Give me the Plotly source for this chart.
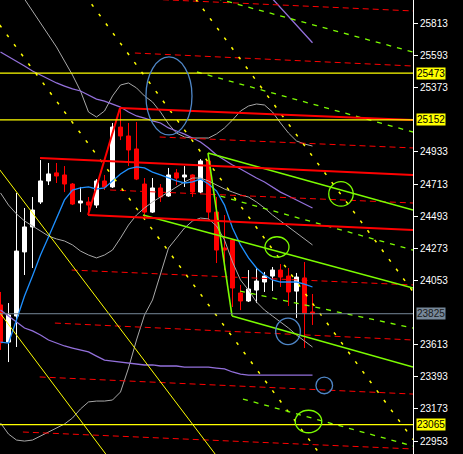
import plotly.graph_objects as go

# ---------------- data ----------------
bar_index = list(range(40))
opens  = [23885, 23631, 23809, 24248, 24419, 24590, 24734, 24789, 24775, 24713,
          24583, 24590, 24569, 24734, 24693, 25103, 25042, 24953, 24713, 24521,
          24686, 24631, 24789, 24761, 24775, 24658, 24871, 24521, 24275, 24330,
          23967, 23912, 23987, 24042, 24083, 24124, 24083, 23980, 24070, 23837]
highs  = [23974, 23898, 24652, 24549, 24624, 24877, 24857, 24857, 24836, 24720,
          24693, 24624, 24747, 24775, 25131, 25230, 25131, 25138, 24754, 24754,
          24713, 24823, 24816, 24836, 24780, 24884, 24898, 24624, 24501, 24335,
          24022, 24124, 24138, 24111, 24145, 24165, 24138, 24104, 24179, 23960]
lows   = [23577, 23494, 23597, 24090, 24138, 24576, 24706, 24720, 24658, 24569,
          24521, 24515, 24549, 24672, 24686, 25014, 24836, 24740, 24487, 24515,
          24590, 24625, 24706, 24693, 24624, 24650, 24467, 24172, 24124, 23871,
          23850, 23905, 23898, 23974, 23981, 24008, 23878, 23796, 23590, 23748]
closes = [23625, 23816, 24254, 24419, 24535, 24734, 24782, 24768, 24713, 24576,
          24597, 24569, 24734, 24693, 25103, 25042, 24946, 24747, 24521, 24686,
          24624, 24775, 24754, 24775, 24658, 24871, 24521, 24261, 24261, 24001,
          23912, 23994, 24049, 24083, 24124, 24076, 23974, 24076, 23830, 23825]

ma_fast = [23631, 23624, 23782, 23946, 24083, 24227, 24350, 24480, 24604, 24672,
           24686, 24693, 24679, 24686, 24734, 24782, 24816, 24830, 24823, 24795,
           24775, 24754, 24734, 24720, 24727, 24747, 24713, 24665, 24569, 24412,
           24296, 24207, 24138, 24090, 24056, 24042, 24042, 24042, 24028, 24008]

bb_mid = [24652, 24569, 24508, 24460, 24426, 24391, 24357, 24337, 24323, 24296,
          24254, 24227, 24207, 24227, 24261, 24343, 24432, 24501, 24549, 24590,
          24624, 24658, 24693, 24727, 24754, 24754, 24734, 24706, 24679, 24658,
          24638, 24624, 24590, 24549, 24501, 24460, 24419, 24378, 24337, 24296]
bb_up  = [26226, 26144, 26055, 25973, 25898, 25816, 25733, 25651, 25555, 25459,
          25350, 25206, 25172, 25213, 25316, 25391, 25405, 25371, 25316, 25275,
          25206, 25124, 25062, 25035, 25028, 25028, 25028, 25056, 25097, 25151,
          25213, 25247, 25261, 25254, 25206, 25131, 25062, 25008, 24987, 24973]
bb_lo  = [23077, 23001, 22960, 22953, 22960, 22988, 23015, 23042, 23070, 23111,
          23173, 23221, 23227, 23227, 23234, 23289, 23453, 23645, 23816, 23919,
          24090, 24275, 24343, 24412, 24460, 24480, 24474, 24426, 24330, 24179,
          24056, 23987, 23905, 23850, 23809, 23768, 23727, 23679, 23638, 23597]

env_mid = [25617, 25583, 25555, 25521, 25487, 25459, 25432, 25405, 25384, 25364,
           25350, 25323, 25295, 25281, 25261, 25240, 25206, 25179, 25165, 25145,
           25131, 25097, 25076, 25055, 25028, 25001, 24960, 24912, 24877, 24843,
           24816, 24782, 24754, 24727, 24693, 24658, 24631, 24604, 24576, 24549]
env_up  = [27384, 27357, 27342, 27315, 27267, 27239, 27219, 27186, 27164, 27138,
           27123, 27083, 27055, 27054, 27021, 26986, 26924, 26877, 26856, 26816,
           26795, 26727, 26685, 26650, 26596, 26542, 26460, 26371, 26307, 26260,
           26220, 26159, 26103, 26049, 25981, 25920, 25860, 25800, 25740, 25680]
env_lo  = [23850, 23809, 23768, 23727, 23707, 23679, 23645, 23624, 23604, 23590,
           23577, 23563, 23535, 23508, 23501, 23494, 23488, 23481, 23474, 23474,
           23467, 23467, 23467, 23460, 23460, 23460, 23460, 23453, 23447, 23426,
           23412, 23405, 23405, 23405, 23405, 23405, 23405, 23405, 23405, 23405]

X_MIN, X_MAX = -0.0625, 51.5625
Y_MIN, Y_MAX = 22864.5, 25973

tick_vals = [22953, 23173, 23393, 23613, 24053, 24273, 24493, 24713, 24933,
             25373, 25593, 25813]
yellow_levels = [25473, 25152, 23065]
bid_level = 23825

# trend objects: (x list in bar index, price list)
red_solid = [
    ([10.94, 14.94], [24501, 25233]),
    ([14.94, X_MAX], [25233, 25151]),
    ([4.94, X_MAX], [24891, 24775]),
    ([10.94, X_MAX], [24501, 24398]),
]
red_dashed = [
    ([20.3, X_MAX], [25975, 25898]),
    ([16.8, X_MAX], [25610, 25521]),
    ([19.9, X_MAX], [25035, 24960]),
    ([13.7, X_MAX], [24672, 24583]),
    ([8.9, X_MAX], [24124, 24022]),
    ([6.8, X_MAX], [23761, 23645]),
    ([4.9, X_MAX], [23392, 23275]),
    ([2.8, X_MAX], [23015, 22899]),
]
yellow_solid = [
    ([-1, 27], [24876, 22852]),
    ([-1, 14], [23898, 22803]),
]
yellow_dashed = [
    ([-1, 41], [25868, 22785]),
    ([10.5, X_MAX], [26010, 22964]),
    ([24.4, X_MAX], [25979, 23977]),
]
green_solid = [
    ([25.94, X_MAX], [24925, 24535]),
    ([25.94, 28.94], [24925, 23810]),
    ([28.94, X_MAX], [23810, 23460]),
    ([17.81, X_MAX], [24501, 24001]),
]
green_dashed = [
    ([27.0, X_MAX], [25983, 25617]),
    ([24.56, X_MAX], [25480, 25069]),
    ([27.5, X_MAX], [24630, 24261]),
    ([29.94, X_MAX], [23980, 23727]),
    ([30.31, X_MAX], [23241, 22919]),
]
# ellipses: centre x (bar index), centre price, half-width (bars), half-height (price)
green_rings = [(42.56, 24645, 1.53, 84), (34.56, 24282, 1.5, 70), (38.5, 23087, 1.66, 77)]
blue_rings = [(35.94, 23704, 1.54, 91), (40.47, 23334, 1.04, 57), (21.06, 25316, 2.875, 267)]

# ---------------- figure ----------------
RED = "#FF0000"
WHITE = "#FFFFFF"
YELLOW = "#FFFF00"
GREEN = "#7CFC00"
GRAY = "#A8A8A8"
PURPLE = "#9370DB"
BLUE = "#1E90FF"
STEEL = "#4F86C6"
SLATE = "#778899"

fig = go.Figure()

# candle wicks
for up in (True, False):
    xs, ys = [], []
    for i in bar_index:
        if (closes[i] >= opens[i]) == up:
            xs += [i, i, None]
            ys += [lows[i], highs[i], None]
    fig.add_trace(go.Scatter(x=xs, y=ys, mode="lines",
                             line=dict(color=WHITE if up else RED, width=1),
                             hoverinfo="skip"))
# candle bodies
for up in (True, False):
    sel = [i for i in bar_index if (closes[i] >= opens[i]) == up]
    fig.add_trace(go.Bar(x=sel,
                         y=[abs(closes[i] - opens[i]) for i in sel],
                         base=[min(closes[i], opens[i]) for i in sel],
                         width=0.5,
                         marker=dict(color=WHITE if up else RED,
                                     line=dict(color=WHITE if up else RED, width=1)),
                         hoverinfo="skip"))

def add_series(vals, color, width):
    fig.add_trace(go.Scatter(x=bar_index, y=vals, mode="lines",
                             line=dict(color=color, width=width), hoverinfo="skip"))

for s in (bb_up, bb_mid, bb_lo):
    add_series(s, GRAY, 1)
for s in (env_up, env_mid, env_lo):
    add_series(s, PURPLE, 1.3)
add_series(ma_fast, BLUE, 1.3)

def add_lines(lines, color, width, dash=None):
    for xs, ys in lines:
        fig.add_trace(go.Scatter(x=xs, y=ys, mode="lines",
                                 line=dict(color=color, width=width, dash=dash),
                                 hoverinfo="skip"))

add_lines(red_dashed, RED, 1, "6px,4px")
add_lines(yellow_dashed, YELLOW, 1.5, "3px,9px")
add_lines(yellow_solid, YELLOW, 1)
add_lines(green_dashed, GREEN, 1.3, "5px,6px")
add_lines(green_solid, GREEN, 1.6)
add_lines(red_solid, RED, 2)

# horizontal levels
for lv in yellow_levels:
    fig.add_trace(go.Scatter(x=[X_MIN, X_MAX], y=[lv, lv], mode="lines",
                             line=dict(color=YELLOW, width=1.3), hoverinfo="skip"))
fig.add_trace(go.Scatter(x=[X_MIN, X_MAX], y=[bid_level, bid_level], mode="lines",
                         line=dict(color=SLATE, width=1), hoverinfo="skip"))

shapes = []
for rings, col in ((green_rings, GREEN), (blue_rings, STEEL)):
    for cx, cy, rx, ry in rings:
        shapes.append(dict(type="circle", xref="x", yref="y",
                           x0=cx - rx, x1=cx + rx, y0=cy - ry, y1=cy + ry,
                           line=dict(color=col, width=1.3)))

annotations = []
for lv in yellow_levels:
    annotations.append(dict(xref="paper", x=1, xanchor="left", xshift=3,
                            yref="y", y=lv, text=str(lv), showarrow=False,
                            bgcolor=YELLOW, borderpad=0,
                            font=dict(family="Liberation Sans", size=10, color="#000000")))
annotations.append(dict(xref="paper", x=1, xanchor="left", xshift=3,
                        yref="y", y=bid_level, text=str(bid_level), showarrow=False,
                        bgcolor=SLATE, borderpad=0,
                        font=dict(family="Liberation Sans", size=10, color="#1a1a1a")))

fig.update_layout(
    width=463, height=454,
    margin=dict(l=0, r=50, t=0, b=0),
    paper_bgcolor="#000000", plot_bgcolor="#000000",
    showlegend=False, barmode="overlay",
    shapes=shapes, annotations=annotations,
    xaxis=dict(range=[X_MIN, X_MAX], visible=False, showgrid=False, zeroline=False,
               rangeslider=dict(visible=False)),
    yaxis=dict(range=[Y_MIN, Y_MAX], side="right", showgrid=False, zeroline=False,
               showline=True, linecolor=WHITE, linewidth=1,
               ticks="outside", ticklen=4, tickcolor=WHITE, tickwidth=1,
               tickvals=tick_vals, ticktext=[str(v) for v in tick_vals],
               tickfont=dict(family="Liberation Sans", size=10, color=WHITE)),
)

fig.write_html(
    "out.html",
    config={"displayModeBar": False},
    post_script="document.body.style.margin='0';document.body.style.background='#000';",
)
